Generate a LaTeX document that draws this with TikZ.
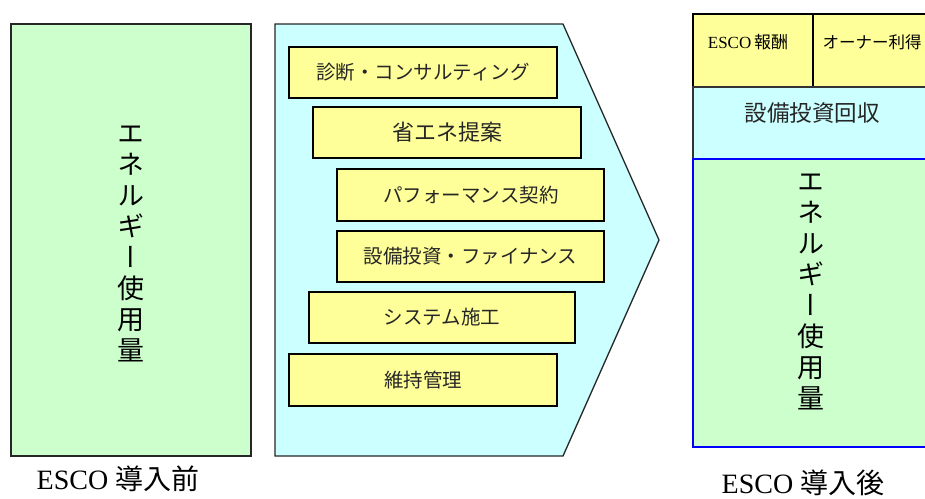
\documentclass[tikz,border=0pt]{standalone}
\usepackage{fontspec}
\setmainfont{Liberation Serif}
\newfontfamily\jp{Noto Sans CJK JP}
\newfontfamily\jpv[RawFeature=+vert]{Noto Sans CJK JP}
\definecolor{gfill}{HTML}{CCFFCC}
\definecolor{cfill}{HTML}{CCFFFF}
\definecolor{yfill}{HTML}{FFFF99}
\definecolor{bline}{HTML}{0000FF}
\begin{document}
\begin{tikzpicture}[x=1pt,y=-1pt,
  ybox/.style={draw=black,line width=1.6pt,fill=yfill},
  itemtxt/.style={font=\jp\fontsize{19.5}{22}\selectfont,text=black!85},
  vtxt/.style={font=\jpv\fontsize{27}{31}\selectfont,align=center,inner sep=0pt},
  caption/.style={font=\fontsize{28}{30}\selectfont,inner sep=0pt}]
\useasboundingbox (0,0) rectangle (925,498);
\clip (0,0) rectangle (925,498);
% left box
\draw[line width=1.6pt,draw=black!85,fill=gfill] (11,24) rectangle (251,456);
\node[vtxt] (v1) at (131,244) {エ\\ネ\\ル\\ギ\\ー\\使\\用\\量};
\node[caption] (c1) at (118,479) {ESCO {\jp 導入前}};
% pentagon
\draw[line width=1.3pt,draw=black!85,fill=cfill] (275,24) -- (563,24) -- (659,240) -- (563,456) -- (275,456) -- cycle;
\draw[ybox] (289,47) rectangle (557,98);
\node[itemtxt] (i1) at (423,72.5) {診断・コンサルティング};
\draw[ybox] (313,107) rectangle (581,158);
\node[itemtxt,font=\jp\fontsize{22}{24}\selectfont] (i2) at (447,132.5) {省エネ提案};
\draw[ybox] (337,169) rectangle (604,221);
\node[itemtxt] (i3) at (471,195) {パフォーマンス契約};
\draw[ybox] (337,231) rectangle (604,282);
\node[itemtxt] (i4) at (470.5,256.5) {設備投資・ファイナンス};
\draw[ybox] (309,292) rectangle (575,343);
\node[itemtxt] (i5) at (442,317.5) {システム施工};
\draw[ybox] (289,354) rectangle (557,406);
\node[itemtxt] (i6) at (423,380) {維持管理};
% right stack
\draw[line width=1.6pt,draw=black,fill=yfill] (693,14) rectangle (935,87);
\draw[line width=1.6pt,draw=black] (813,14) -- (813,87);
\node[font=\fontsize{17}{19}\selectfont,inner sep=0pt] (r1) at (748,42) {ESCO\,{\jp 報酬}};
\node[font=\jp\fontsize{16.5}{18}\selectfont,inner sep=0pt] (r2) at (872,42) {オーナー利得};
\draw[line width=1.2pt,draw=black!80,fill=cfill] (693,87) rectangle (935,159);
\node[font=\jp\fontsize{22.5}{24}\selectfont,text=black!85] (r3) at (812,113) {設備投資回収};
\draw[line width=1.6pt,draw=bline,fill=gfill] (693,159) rectangle (935,447);
\node[vtxt] (v2) at (811,292) {エ\\ネ\\ル\\ギ\\ー\\使\\用\\量};
\node[caption] (c2) at (803,483) {ESCO {\jp 導入後}};
\end{tikzpicture}
\end{document}
